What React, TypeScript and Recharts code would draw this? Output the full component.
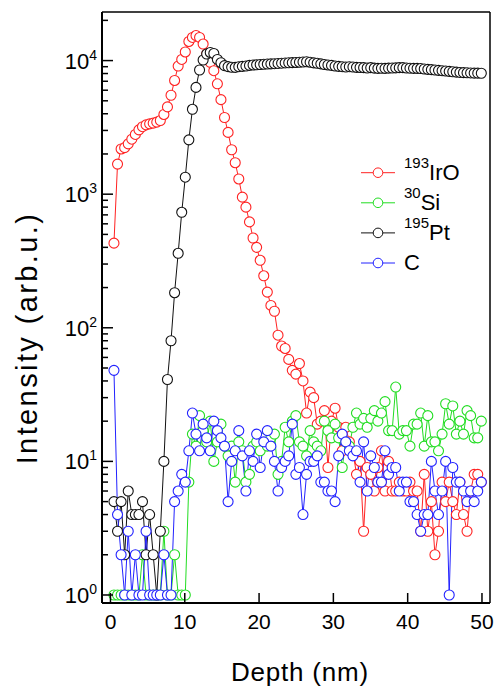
import React from 'react';
import { LineChart, Line, XAxis, YAxis, Legend } from 'recharts';

// depth grid (nm)
const depth = [
  0.47, 0.95, 1.43, 1.91, 2.39, 2.87, 3.35, 3.83, 4.31, 4.79,
  5.27, 5.75, 6.23, 6.71, 7.19, 7.67, 8.15, 8.63, 9.11, 9.59,
  10.07, 10.55, 11.03, 11.51, 11.99, 12.47, 12.95, 13.43, 13.91, 14.39,
  14.87, 15.35, 15.83, 16.31, 16.79, 17.27, 17.75, 18.23, 18.71, 19.19,
  19.67, 20.15, 20.63, 21.11, 21.59, 22.07, 22.55, 23.03, 23.51, 23.99,
  24.47, 24.95, 25.43, 25.91, 26.39, 26.87, 27.35, 27.83, 28.31, 28.79,
  29.27, 29.75, 30.23, 30.71, 31.19, 31.67, 32.15, 32.63, 33.11, 33.59,
  34.07, 34.55, 35.03, 35.51, 35.99, 36.47, 36.95, 37.43, 37.91, 38.39,
  38.87, 39.35, 39.83, 40.31, 40.79, 41.27, 41.75, 42.23, 42.71, 43.19,
  43.67, 44.15, 44.63, 45.11, 45.59, 46.07, 46.55, 47.03, 47.51, 47.99,
  48.47, 48.95, 49.43, 49.91,
];

const iro193 = [
  430, 1680, 2180, 2230, 2380, 2580, 2800, 3030, 3200, 3300,
  3360, 3400, 3460, 3560, 3950, 4500, 5500, 7100, 9100, 10200,
  11600, 13900, 14900, 15400, 14900, 13300, 11200, 9700, 8400, 6700,
  5100, 3750, 2900, 2150, 1720, 1300, 950, 800, 620, 470,
  400, 320, 245, 185, 147, 133, 88, 73, 70, 58,
  48, 45, 54, 40, 23, 33, 30, 19, 20, 24,
  9, 20, 25, 18, 12, 18, 14, 12, 8, 10,
  3, 9, 8, 6, 9, 12, 6, 10, 6, 6,
  7, 6, 6, 7, 6, 6, 3, 8, 3, 5,
  2, 3, 7, 5, 7, 5, 4, 7, 4, 3,
  6, 8, 8, 7,
];

const si30 = [
  1, 1, 1, 1, 1, 1, 1, 1, 2, 1,
  1, 1, 1, 1, 3, 1, 1, 2, 1, 1,
  1, 7, 16, 13, 22, 17, 14, 20, 10, 14,
  19, 13, 11, 13, 7, 14, 12, 7, 8, 13,
  14, 12, 15, 13, 15, 16, 8, 10, 18, 14,
  20, 22, 14, 13, 11, 17, 14, 13, 12, 20,
  17, 15, 19, 15, 9, 14, 13, 18, 23, 19,
  21, 18, 21, 24, 20, 23, 28, 17, 17, 36,
  16, 17, 17, 13, 19, 19, 23, 13, 22, 14,
  14, 12, 16, 27, 19, 26, 16, 20, 16, 24,
  22, 15, 15, 20,
];

const pt195 = [
  5, 3, 5, 2, 6, 4, 4, 4, 5, 2,
  4, 2, 1, 3, 10, 41, 80, 183, 361, 732,
  1340, 2550, 4320, 6300, 8500, 10100, 11200, 11500, 11300, 10200,
  9640, 9160, 9010, 8910, 8900, 9000, 9050, 9100, 9200, 9270,
  9300, 9350, 9380, 9420, 9450, 9480, 9520, 9560, 9600, 9630,
  9650, 9680, 9720, 9760, 9800, 9720, 9620, 9550, 9450, 9350,
  9270, 9200, 9100, 9050, 9000, 8950, 9000, 8950, 8900, 8880,
  8850, 8800, 8850, 8780, 8750, 8760, 8750, 8780, 8800, 8820,
  8850, 8850, 8800, 8770, 8750, 8750, 8720, 8650, 8600, 8550,
  8500, 8450, 8400, 8350, 8300, 8250, 8200, 8150, 8120, 8100,
  8080, 8060, 8050, 8040,
];

const carbon = [
  48, 4, 2, 1, 3, 1, 2, 1, 1, 3,
  1, 1, 1, 1, 2, 1, 1, 5, 6, 8,
  7, 12, 23, 16, 12, 19, 15, 12, 20, 17,
  15, 13, 5, 10, 12, 17, 11, 6, 12, 10,
  16, 9, 14, 17, 13, 10, 6, 9, 10, 11,
  19, 8, 9, 4, 8, 10, 10, 11, 7, 7,
  6, 6, 5, 11, 16, 14, 12, 11, 12, 7,
  14, 6, 11, 9, 7, 7, 12, 8, 9, 9,
  6, 7, 7, 5, 5, 4, 3, 4, 4, 10,
  6, 4, 6, 10, 1, 9, 7, 7, 6, 5,
  6, 5, 6, 7,
];

const xTicks = [0, 10, 20, 30, 40, 50];
const yTicks = [
  1, 2, 3, 4, 5, 6, 7, 8, 9,
  10, 20, 30, 40, 50, 60, 70, 80, 90,
  100, 200, 300, 400, 500, 600, 700, 800, 900,
  1000, 2000, 3000, 4000, 5000, 6000, 7000, 8000, 9000,
  10000, 20000,
];

const legendMass = ['193', '30', '195', ''];
const legendElement = ['IrO', 'Si', 'Pt', 'C'];

const data = depth.map((d, i) => ({
  depth: d,
  iro: iro193[i],
  si: si30[i],
  pt: pt195[i],
  c: carbon[i],
}));

const SERIES = [
  { key: 'iro', color: '#ff2222' },
  { key: 'si', color: '#22dd22' },
  { key: 'pt', color: '#111111' },
  { key: 'c', color: '#2222ff' },
];

const YTick = (props: any) => {
  const { x, y, payload } = props;
  const exp = Math.log10(payload.value);
  const major = Math.abs(exp - Math.round(exp)) < 1e-6;
  return (
    <g>
      <line x1={x} x2={x + (major ? 11 : 6)} y1={y} y2={y} stroke="#000" strokeWidth={1.5} />
      {major && (
        <text x={x - 5} y={y + 8} textAnchor="end" fontSize={22} fill="#000">
          10
          <tspan fontSize={14} dy={-9}>
            {Math.round(exp)}
          </tspan>
        </text>
      )}
    </g>
  );
};

const XTick = (props: any) => {
  const { x, y, payload } = props;
  return (
    <g>
      <line x1={x} x2={x} y1={y} y2={y - 10} stroke="#000" strokeWidth={1.5} />
      <text x={x} y={y + 26} textAnchor="middle" fontSize={21} fill="#000">
        {payload.value}
      </text>
    </g>
  );
};

const DepthTitle = () => (
  <text x={300} y={681} textAnchor="middle" fontSize={26} letterSpacing={0.8} fill="#000">
    Depth (nm)
  </text>
);

const IntensityTitle = () => (
  <text
    transform="translate(37,338) rotate(-90)"
    textAnchor="middle"
    fontSize={29}
    letterSpacing={2.4}
    fill="#000"
  >
    Intensity (arb.u.)
  </text>
);

const renderLegend = () => (
  <svg width={135} height={130} style={{ display: 'block' }}>
    {SERIES.map((s, i) => {
      const cy = 22.7 + i * 30.1;
      const mass = legendMass[i];
      return (
        <g key={s.key}>
          <line x1={6} x2={40} y1={cy} y2={cy} stroke={s.color} strokeWidth={1} />
          <circle cx={23} cy={cy} r={4.8} fill="#fff" stroke={s.color} strokeWidth={1} />
          <text x={49} y={cy + 7} fontSize={22} fill="#000">
            {mass ? (
              <tspan fontSize={15} dy={-12}>
                {mass}
              </tspan>
            ) : null}
            <tspan dy={mass ? 12 : 0}>{legendElement[i]}</tspan>
          </text>
        </g>
      );
    })}
  </svg>
);

export default function App() {
  return (
    <div
      style={{
        position: 'absolute',
        left: 0,
        top: 0,
        fontFamily: '"Liberation Sans", Arial, Helvetica, sans-serif',
      }}
    >
      <LineChart
        width={496}
        height={687}
        data={data}
        margin={{ top: 11, right: 5, bottom: 83, left: 101 }}
      >
        <XAxis
          dataKey="depth"
          type="number"
          domain={[-1.14, 51.08]}
          ticks={xTicks}
          interval={0}
          height={1}
          tickSize={0}
          tickMargin={0}
          tick={XTick}
          tickLine={false}
          axisLine={{ stroke: '#000', strokeWidth: 2 }}
          allowDataOverflow
          label={DepthTitle}
        />
        <XAxis
          xAxisId="top"
          orientation="top"
          type="number"
          domain={[0, 1]}
          height={1}
          tick={false}
          tickLine={false}
          axisLine={{ stroke: '#000', strokeWidth: 1.5 }}
        />
        <YAxis
          type="number"
          scale="log"
          domain={[0.871, 23100]}
          ticks={yTicks}
          interval={0}
          width={1}
          tickSize={0}
          tickMargin={0}
          tick={YTick}
          tickLine={false}
          axisLine={{ stroke: '#000', strokeWidth: 2 }}
          allowDataOverflow
          label={IntensityTitle}
        />
        <YAxis
          yAxisId="right"
          orientation="right"
          type="number"
          domain={[0, 1]}
          width={1}
          tick={false}
          tickLine={false}
          axisLine={{ stroke: '#000', strokeWidth: 1.5 }}
        />
        <Legend
          layout="vertical"
          align="center"
          verticalAlign="middle"
          content={renderLegend}
          wrapperStyle={{ position: 'absolute', left: 355, top: 150, width: 135, height: 130 }}
        />
        {SERIES.map((s) => (
          <Line
            key={s.key}
            type="linear"
            dataKey={s.key}
            stroke={s.color}
            strokeWidth={1}
            dot={{ r: 5, fill: '#fff', stroke: s.color, strokeWidth: 1.1 }}
            activeDot={false}
            isAnimationActive={false}
          />
        ))}
      </LineChart>
    </div>
  );
}
